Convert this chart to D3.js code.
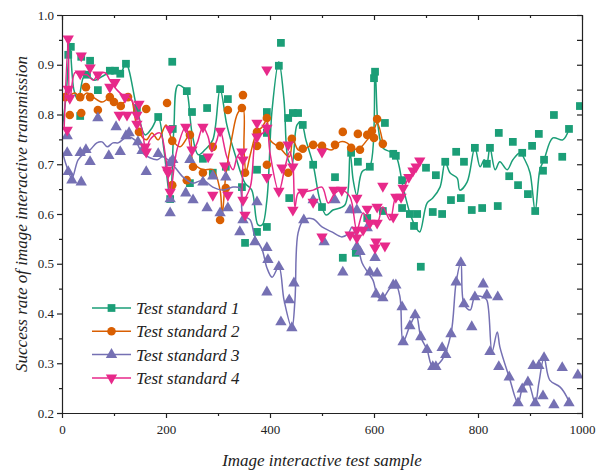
<!DOCTYPE html>
<html>
<head>
<meta charset="utf-8">
<script src="https://cdn.jsdelivr.net/npm/d3@7"></script>
</head>
<body style="margin:0;background:#fff">
<script>
// series names + colours
var seriesNames = ["Test standard 1", "Test standard 2", "Test standard 3", "Test standard 4"];
var seriesColors = ["#1b9e77", "#d95f02", "#7570b3", "#e7298a"];

// tick values
var xTicks = [0, 200, 400, 600, 800, 1000];
var yTicks = [0.2, 0.3, 0.4, 0.5, 0.6, 0.7, 0.8, 0.9, 1.0];

// scatter points [sample, rate]
var std1Points = [[12,0.920],[17,0.936],[35,0.797],[37,0.916],[48,0.880],[54,0.908],[69,0.849],[92,0.888],[102,0.888],[112,0.882],
  [123,0.902],[144,0.813],[185,0.795],[208,0.630],[212,0.906],[213,0.771],[240,0.847],[246,0.662],[250,0.805],[271,0.711],
  [279,0.813],[290,0.683],[304,0.851],[315,0.695],[319,0.831],[346,0.654],[352,0.542],[375,0.689],[375,0.564],[394,0.805],
  [394,0.763],[394,0.574],[417,0.898],[421,0.944],[435,0.793],[437,0.632],[444,0.803],[454,0.803],[463,0.779],[483,0.699],
  [500,0.614],[525,0.674],[540,0.512],[556,0.723],[565,0.522],[569,0.705],[587,0.592],[592,0.695],[600,0.873],[602,0.886],
  [617,0.606],[621,0.783],[637,0.721],[642,0.717],[654,0.668],[654,0.612],[669,0.600],[677,0.576],[683,0.600],[690,0.494],
  [700,0.693],[713,0.604],[719,0.678],[731,0.600],[737,0.705],[748,0.628],[758,0.725],[767,0.632],[773,0.705],[788,0.608],
  [794,0.733],[808,0.612],[817,0.701],[823,0.733],[838,0.616],[840,0.763],[860,0.676],[867,0.745],[877,0.658],[885,0.723],
  [896,0.640],[904,0.737],[910,0.606],[917,0.761],[925,0.687],[927,0.709],[946,0.799],[962,0.715],[975,0.771],[996,0.817]];

var std2Points = [[6,0.835],[15,0.799],[35,0.835],[37,0.803],[46,0.855],[54,0.835],[69,0.809],[92,0.835],[100,0.825],[113,0.817],
  [127,0.835],[148,0.765],[162,0.811],[202,0.823],[212,0.747],[212,0.658],[240,0.668],[246,0.759],[252,0.695],[271,0.683],
  [290,0.735],[304,0.588],[315,0.652],[319,0.809],[346,0.813],[348,0.839],[352,0.683],[375,0.765],[375,0.737],[394,0.793],
  [394,0.699],[419,0.737],[435,0.683],[442,0.751],[454,0.715],[463,0.731],[483,0.739],[500,0.737],[525,0.739],[540,0.765],
  [556,0.733],[569,0.761],[573,0.729],[587,0.759],[596,0.767],[600,0.753],[606,0.791],[617,0.741]];

var std3Points = [[10,0.757],[10,0.723],[12,0.685],[19,0.668],[35,0.723],[37,0.664],[46,0.729],[54,0.705],[69,0.793],[90,0.717],
  [104,0.775],[112,0.725],[123,0.757],[129,0.763],[146,0.745],[154,0.727],[162,0.685],[185,0.721],[208,0.703],[208,0.630],
  [208,0.602],[213,0.709],[238,0.642],[246,0.709],[252,0.628],[271,0.664],[279,0.612],[290,0.676],[304,0.602],[315,0.674],
  [319,0.612],[342,0.564],[348,0.588],[371,0.544],[375,0.624],[394,0.532],[396,0.508],[394,0.443],[417,0.494],[421,0.383],
  [437,0.427],[442,0.371],[446,0.461],[465,0.588],[483,0.628],[504,0.544],[525,0.628],[540,0.483],[554,0.608],[567,0.608],
  [567,0.534],[573,0.524],[587,0.572],[592,0.483],[602,0.512],[606,0.481],[604,0.439],[617,0.431],[637,0.457],[642,0.457],
  [654,0.413],[656,0.343],[669,0.375],[679,0.397],[690,0.353],[702,0.327],[713,0.293],[719,0.293],[731,0.331],[738,0.317],
  [748,0.359],[758,0.463],[767,0.502],[773,0.419],[788,0.373],[794,0.433],[810,0.459],[817,0.437],[823,0.323],[838,0.433],
  [840,0.293],[860,0.272],[877,0.220],[885,0.248],[896,0.262],[906,0.295],[910,0.220],[917,0.295],[925,0.234],[927,0.311],
  [946,0.216],[962,0.291],[975,0.220],[992,0.276]];

var std4Points = [[10,0.769],[12,0.952],[12,0.851],[15,0.833],[35,0.882],[37,0.918],[54,0.894],[69,0.880],[92,0.855],[102,0.865],
  [110,0.799],[121,0.835],[125,0.799],[144,0.799],[144,0.781],[148,0.821],[160,0.735],[162,0.725],[202,0.689],[204,0.683],
  [208,0.771],[208,0.644],[238,0.775],[250,0.729],[271,0.775],[281,0.715],[290,0.638],[304,0.767],[313,0.697],[319,0.638],
  [346,0.725],[348,0.709],[348,0.628],[352,0.598],[375,0.783],[375,0.755],[394,0.890],[394,0.773],[394,0.674],[417,0.646],
  [423,0.693],[435,0.739],[444,0.695],[444,0.608],[463,0.644],[483,0.624],[500,0.725],[500,0.554],[523,0.648],[538,0.648],
  [554,0.558],[567,0.632],[567,0.568],[567,0.552],[579,0.568],[587,0.610],[592,0.582],[602,0.532],[604,0.544],[606,0.614],
  [606,0.582],[617,0.656],[621,0.536],[637,0.594],[642,0.634],[652,0.634],[656,0.652],[667,0.674],[675,0.687],[681,0.695],
  [688,0.707]];

// smoothed curve points for each series
var std1Curve = [[0,0.769],[8,0.839],[15,0.936],[23,0.849],[31,0.829],[44,0.880],[63,0.869],[83,0.880],[102,0.886],[112,0.882],
  [123,0.902],[144,0.813],[160,0.759],[173,0.773],[185,0.795],[196,0.729],[208,0.630],[215,0.769],[223,0.859],[235,0.853],
  [240,0.847],[250,0.763],[262,0.719],[275,0.729],[290,0.749],[304,0.851],[317,0.779],[333,0.719],[352,0.662],[365,0.648],
  [377,0.578],[385,0.578],[394,0.628],[404,0.809],[417,0.906],[427,0.829],[435,0.709],[442,0.699],[452,0.779],[460,0.785],
  [469,0.749],[483,0.699],[496,0.628],[508,0.598],[521,0.608],[544,0.618],[554,0.723],[560,0.668],[567,0.638],[577,0.685],
  [592,0.695],[602,0.890],[608,0.775],[617,0.733],[631,0.725],[642,0.717],[656,0.654],[669,0.602],[681,0.572],[688,0.564],
  [702,0.622],[713,0.632],[727,0.654],[737,0.705],[746,0.683],[760,0.672],[765,0.648],[779,0.664],[794,0.733],[804,0.695],
  [812,0.709],[817,0.701],[823,0.733],[833,0.689],[842,0.705],[856,0.689],[867,0.709],[881,0.723],[890,0.709],[900,0.683],
  [910,0.606],[919,0.689],[927,0.709],[944,0.753],[963,0.749],[975,0.771]];

var std2Curve = [[0,0.833],[10,0.835],[25,0.843],[35,0.833],[48,0.843],[60,0.835],[77,0.825],[92,0.833],[104,0.823],[117,0.823],
  [131,0.835],[146,0.769],[162,0.749],[173,0.763],[185,0.749],[200,0.779],[212,0.749],[227,0.735],[246,0.759],[252,0.705],
  [271,0.689],[290,0.689],[304,0.648],[308,0.598],[315,0.678],[327,0.755],[338,0.803],[348,0.813],[350,0.729],[354,0.685],
  [362,0.719],[375,0.765],[385,0.775],[394,0.789],[400,0.749],[419,0.733],[437,0.715],[444,0.749],[454,0.729],[463,0.729],
  [483,0.739],[500,0.735],[519,0.729],[535,0.745],[548,0.743],[560,0.731],[573,0.733],[587,0.749],[598,0.763],[606,0.783],
  [617,0.743]];

var std3Curve = [[0,0.729],[8,0.699],[19,0.672],[31,0.709],[44,0.723],[54,0.729],[67,0.743],[77,0.745],[87,0.735],[98,0.743],
  [108,0.743],[125,0.755],[140,0.749],[154,0.723],[169,0.713],[183,0.709],[194,0.715],[213,0.699],[233,0.674],[252,0.662],
  [271,0.668],[290,0.654],[310,0.648],[327,0.654],[342,0.652],[348,0.598],[362,0.588],[371,0.554],[385,0.528],[394,0.492],
  [404,0.473],[417,0.494],[427,0.427],[442,0.371],[448,0.427],[454,0.562],[465,0.588],[483,0.590],[500,0.574],[519,0.564],
  [538,0.554],[550,0.560],[558,0.574],[567,0.548],[577,0.502],[588,0.483],[598,0.467],[608,0.433],[617,0.431],[631,0.451],
  [642,0.457],[650,0.433],[656,0.343],[669,0.375],[681,0.397],[690,0.353],[702,0.327],[713,0.293],[731,0.307],[748,0.359],
  [758,0.463],[767,0.502],[773,0.419],[785,0.407],[794,0.433],[810,0.433],[817,0.427],[827,0.323],[837,0.363],[842,0.333],
  [860,0.272],[877,0.220],[885,0.248],[896,0.262],[910,0.220],[917,0.260],[927,0.311],[938,0.266],[958,0.252],[971,0.232],
  [977,0.216]];

var std4Curve = [[4,0.769],[12,0.950],[15,0.829],[25,0.884],[35,0.880],[48,0.880],[60,0.869],[69,0.880],[83,0.884],[92,0.869],
  [106,0.849],[117,0.839],[131,0.833],[144,0.803],[154,0.769],[162,0.725],[169,0.749],[188,0.763],[200,0.709],[208,0.642],
  [221,0.729],[238,0.775],[250,0.725],[260,0.743],[271,0.775],[281,0.755],[288,0.725],[298,0.749],[304,0.769],[317,0.715],
  [329,0.689],[337,0.715],[346,0.725],[348,0.628],[362,0.654],[375,0.759],[387,0.763],[394,0.783],[400,0.723],[417,0.646],
  [429,0.695],[438,0.725],[444,0.699],[448,0.614],[454,0.642],[463,0.644],[483,0.648],[500,0.654],[512,0.622],[525,0.642],
  [538,0.648],[554,0.634],[567,0.568],[579,0.602],[592,0.582],[606,0.582],[617,0.614],[631,0.588],[642,0.634],[650,0.628],
  [660,0.658],[667,0.674]];

var allPoints = [std1Points, std2Points, std3Points, std4Points];
var allCurves = [std1Curve, std2Curve, std3Curve, std4Curve];
var symbols = [d3.symbolSquare, d3.symbolCircle, d3.symbolTriangle, d3.symbolTriangle];
var symSize = [60, 58, 56, 56];
var symRot = [0, 0, 0, 180];

var fontFam = "'Liberation Serif', 'Times New Roman', serif";
var width = 603, height = 471;
var margin = {left: 62, right: 21, top: 15, bottom: 58};

var svg = d3.select("body").append("svg")
  .attr("width", width)
  .attr("height", height);

var x = d3.scaleLinear().domain([0, 1000]).range([margin.left, width - margin.right]);
var y = d3.scaleLinear().domain([0.2, 1.0]).range([height - margin.bottom, margin.top]);

// series: smoothed line + markers
var line = d3.line()
  .x(d => x(d[0]))
  .y(d => y(d[1]))
  .curve(d3.curveCatmullRom.alpha(0.5));

svg.append("clipPath").attr("id", "clip")
  .append("rect")
  .attr("x", x(0)).attr("y", y(1.0))
  .attr("width", x(1000) - x(0)).attr("height", y(0.2) - y(1.0));

var plot = svg.append("g").attr("clip-path", "url(#clip)");

allPoints.forEach(function (pts, i) {
  var g = plot.append("g");
  g.append("path")
    .datum(allCurves[i])
    .attr("d", line)
    .attr("fill", "none")
    .attr("stroke", seriesColors[i])
    .attr("stroke-width", 1.5);
  g.selectAll("path.mk")
    .data(pts)
    .enter()
    .append("path")
    .attr("class", "mk")
    .attr("d", d3.symbol().type(symbols[i]).size(symSize[i]))
    .attr("transform", d => "translate(" + x(d[0]) + "," + y(d[1]) + ") rotate(" + symRot[i] + ")")
    .attr("fill", seriesColors[i]);
});

// axes
function styleAxis(g) {
  g.attr("font-family", null).attr("font-size", null);
  g.selectAll("path, line").attr("stroke", "#222").attr("stroke-width", 1.2);
  g.selectAll("text").style("font-family", fontFam).style("font-size", "13px").attr("fill", "#222");
}

svg.append("g")
  .attr("transform", "translate(0," + y(0.2) + ")")
  .call(d3.axisBottom(x).tickValues(xTicks).tickSize(5).tickSizeOuter(0).tickPadding(7).tickFormat(d3.format("d")))
  .call(styleAxis);
svg.append("g")
  .attr("transform", "translate(0," + y(0.2) + ")")
  .call(d3.axisBottom(x).tickValues([100, 300, 500, 700, 900]).tickSize(3).tickFormat(""))
  .call(g => g.select(".domain").remove())
  .call(styleAxis);

svg.append("g")
  .attr("transform", "translate(" + x(0) + ",0)")
  .call(d3.axisLeft(y).tickValues(yTicks).tickSize(5).tickSizeOuter(0).tickPadding(3).tickFormat(d3.format(".1f")))
  .call(styleAxis);
svg.append("g")
  .attr("transform", "translate(" + x(0) + ",0)")
  .call(d3.axisLeft(y).tickValues([0.25, 0.35, 0.45, 0.55, 0.65, 0.75, 0.85, 0.95]).tickSize(3).tickFormat(""))
  .call(g => g.select(".domain").remove())
  .call(styleAxis);

// mirrored top/right axes, ticks inward
svg.append("g")
  .attr("transform", "translate(0," + y(1.0) + ")")
  .call(d3.axisTop(x).tickValues(xTicks).tickSize(-5).tickSizeOuter(0).tickFormat(""))
  .call(styleAxis);
svg.append("g")
  .attr("transform", "translate(0," + y(1.0) + ")")
  .call(d3.axisTop(x).tickValues([100, 300, 500, 700, 900]).tickSize(-3).tickFormat(""))
  .call(g => g.select(".domain").remove())
  .call(styleAxis);
svg.append("g")
  .attr("transform", "translate(" + x(1000) + ",0)")
  .call(d3.axisRight(y).tickValues(d3.range(0.2, 1.001, 0.05)).tickSize(-5).tickSizeOuter(0).tickFormat(""))
  .call(styleAxis);

// axis titles
svg.append("text")
  .attr("x", (x(0) + x(1000)) / 2)
  .attr("y", 466)
  .attr("text-anchor", "middle")
  .style("font-family", fontFam)
  .style("font-style", "italic")
  .style("font-size", "17px")
  .attr("fill", "#222")
  .text("Image interactive test sample");

svg.append("text")
  .attr("transform", "translate(27," + y(0.6) + ") rotate(-90)")
  .attr("text-anchor", "middle")
  .style("font-family", fontFam)
  .style("font-style", "italic")
  .style("font-size", "17px")
  .attr("fill", "#222")
  .text("Success rate of image interactive transmission");

// legend
var legend = svg.append("g").attr("transform", "translate(92,308)");
seriesNames.forEach(function (name, i) {
  var row = legend.append("g").attr("transform", "translate(0," + (i * 23.3) + ")");
  row.append("line")
    .attr("x1", 0).attr("x2", 39)
    .attr("stroke", seriesColors[i]).attr("stroke-width", 1.5);
  row.append("path")
    .attr("d", d3.symbol().type(symbols[i]).size(symSize[i])())
    .attr("transform", "translate(19.5,0) rotate(" + symRot[i] + ")")
    .attr("fill", seriesColors[i]);
  row.append("text")
    .attr("x", 44).attr("y", 6)
    .style("font-family", fontFam)
    .style("font-style", "italic")
    .style("font-size", "17px")
    .attr("fill", "#222")
    .text(name);
});
</script>
</body>
</html>
